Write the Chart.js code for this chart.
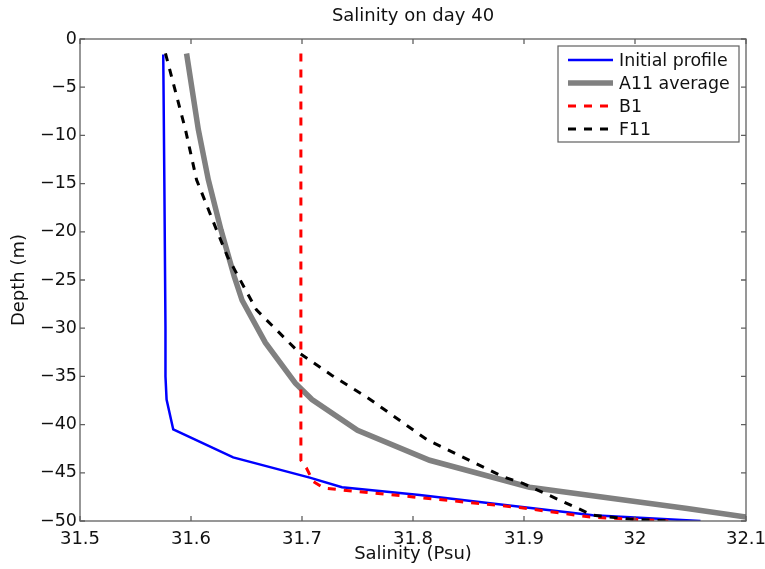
<!DOCTYPE html>
<html><head><meta charset="utf-8">
<script src="https://cdn.jsdelivr.net/npm/chart.js@4.4.0/dist/chart.umd.min.js"></script>
<style>html,body{margin:0;padding:0;background:#fff}#wrap{width:765px;height:569px;position:relative}</style>
</head><body><div id="wrap"><canvas id="c" width="765" height="569"></canvas></div>
<script>
const titleText = 'Salinity on day 40';
const xAxisTitle = 'Salinity (Psu)';
const yAxisTitle = 'Depth (m)';
const seriesLabels = ['Initial profile', 'A11 average', 'B1', 'F11'];

const xTickValues = [31.5, 31.6, 31.7, 31.8, 31.9, 32.0, 32.1];
const xTickLabels = ['31.5', '31.6', '31.7', '31.8', '31.9', '32', '32.1'];
const yTickValues = [0, -5, -10, -15, -20, -25, -30, -35, -40, -45, -50];
const yTickLabels = ['0', '\u22125', '\u221210', '\u221215', '\u221220', '\u221225', '\u221230', '\u221235', '\u221240', '\u221245', '\u221250'];

const initialSalinity = [31.575, 31.576, 31.577, 31.577, 31.578, 31.584, 31.638, 31.707, 31.736, 31.806, 31.962, 32.059];
const initialDepth    = [-1.6, -15, -30, -35, -37.4, -40.5, -43.4, -45.5, -46.5, -47.3, -49.4, -50];

const a11Salinity = [31.596, 31.6066, 31.6156, 31.627, 31.639, 31.646, 31.667, 31.694, 31.709, 31.750, 31.815, 31.905, 32.047, 32.100];
const a11Depth    = [-1.5, -9.4, -14.6, -19.8, -24.65, -27.1, -31.5, -35.7, -37.4, -40.6, -43.7, -46.5, -48.7, -49.6];

const b1Salinity = [31.699, 31.699, 31.704, 31.710, 31.720, 31.800, 31.896, 31.960, 32.030];
const b1Depth    = [-1.5, -43.7, -44.5, -45.9, -46.6, -47.5, -48.6, -49.6, -50];

const f11Salinity = [31.577, 31.595, 31.605, 31.623, 31.633, 31.659, 31.698, 31.727, 31.759, 31.813, 31.881, 31.899, 31.962, 31.995, 32.030];
const f11Depth    = [-1.5, -9.4, -14.6, -19.8, -22.6, -28.1, -32.6, -34.9, -37.2, -41.6, -45.4, -46.1, -49.4, -49.8, -50];

function pts(xs, ys) { return xs.map((x, i) => ({ x: x, y: ys[i] })); }

const FONT = 'DejaVu Sans';
const TXT = '#111';
const AX = '#606060';

const frameTicksPlugin = {
  id: 'frameTicks',
  afterDatasetsDraw(chart) {
    const { ctx, chartArea: a, scales } = chart;
    ctx.save();
    ctx.strokeStyle = AX;
    ctx.lineWidth = 1.3;
    ctx.beginPath();
    const L = 5;
    scales.x.ticks.forEach(t => {
      const px = scales.x.getPixelForValue(t.value);
      ctx.moveTo(px, a.bottom); ctx.lineTo(px, a.bottom - L);
      ctx.moveTo(px, a.top); ctx.lineTo(px, a.top + L);
    });
    scales.y.ticks.forEach(t => {
      const py = scales.y.getPixelForValue(t.value);
      ctx.moveTo(a.left, py); ctx.lineTo(a.left + L, py);
      ctx.moveTo(a.right, py); ctx.lineTo(a.right - L, py);
    });
    ctx.stroke();
    ctx.strokeRect(a.left, a.top, a.right - a.left, a.bottom - a.top);
    ctx.restore();
  }
};

const boxLegendPlugin = {
  id: 'boxLegend',
  afterDraw(chart) {
    const { ctx, chartArea: a } = chart;
    const ds = chart.data.datasets;
    const w = 181, h = 96;
    const x0 = a.right - 7 - w, y0 = a.top + 7;
    ctx.save();
    ctx.fillStyle = '#fff';
    ctx.fillRect(x0, y0, w, h);
    ctx.strokeStyle = AX;
    ctx.lineWidth = 1.2;
    ctx.strokeRect(x0, y0, w, h);
    ctx.font = '17.4px "' + FONT + '"';
    ctx.textBaseline = 'middle';
    ctx.textAlign = 'left';
    ds.forEach((d, i) => {
      const y = y0 + 14 + i * 23;
      ctx.beginPath();
      ctx.strokeStyle = d.borderColor;
      ctx.lineWidth = d.borderWidth;
      ctx.setLineDash(d.borderDash || []);
      ctx.moveTo(x0 + 10, y); ctx.lineTo(x0 + 55, y);
      ctx.stroke();
      ctx.setLineDash([]);
      ctx.fillStyle = TXT;
      ctx.fillText(d.label, x0 + 61, y + 1);
    });
    ctx.restore();
  }
};

new Chart(document.getElementById('c'), {
  type: 'scatter',
  data: {
    datasets: [
      { label: seriesLabels[0], data: pts(initialSalinity, initialDepth), borderColor: '#0000ff', borderWidth: 2.5, order: 4 },
      { label: seriesLabels[1], data: pts(a11Salinity, a11Depth), borderColor: '#808080', borderWidth: 5.5, order: 3 },
      { label: seriesLabels[2], data: pts(b1Salinity, b1Depth), borderColor: '#ff0000', borderWidth: 3, borderDash: [8, 8], order: 2 },
      { label: seriesLabels[3], data: pts(f11Salinity, f11Depth), borderColor: '#000000', borderWidth: 3, borderDash: [8, 8], order: 1 }
    ].map(d => Object.assign({ showLine: true, pointRadius: 0, pointHoverRadius: 0, fill: false, tension: 0, clip: 0 }, d))
  },
  options: {
    responsive: false,
    animation: false,
    events: [],
    layout: { padding: { left: 0, right: 19, top: 0, bottom: 0 } },
    plugins: {
      legend: { display: false },
      tooltip: { enabled: false },
      title: {
        display: true, text: titleText, fullSize: false, color: TXT,
        font: { family: FONT, size: 18, weight: 'normal', lineHeight: 1.2 },
        padding: { top: 6, bottom: 11.4 }
      }
    },
    scales: {
      x: {
        type: 'linear', min: 31.5, max: 32.1,
        afterBuildTicks: s => { s.ticks = xTickValues.map(v => ({ value: v })); },
        afterFit: s => { s.height = 48; s.paddingLeft = 0; s.paddingRight = 0; },
        ticks: { callback: (v, i) => xTickLabels[i], font: { family: FONT, size: 18 }, color: TXT, padding: 8, maxRotation: 0, autoSkip: false },
        grid: { display: false, drawTicks: false },
        border: { display: false },
        title: { display: true, text: xAxisTitle, color: TXT, font: { family: FONT, size: 18, lineHeight: 1.2 }, padding: { top: 0, bottom: 4 } }
      },
      y: {
        type: 'linear', min: -50, max: 0,
        afterBuildTicks: s => { s.ticks = yTickValues.map(v => ({ value: v })); },
        afterFit: s => { s.width = 80; s.paddingTop = 0; s.paddingBottom = 0; },
        ticks: { callback: (v, i) => yTickLabels[i], font: { family: FONT, size: 17.5 }, color: TXT, padding: 3, autoSkip: false },
        grid: { display: false, drawTicks: false },
        border: { display: false },
        title: { display: true, text: yAxisTitle, color: TXT, font: { family: FONT, size: 18, lineHeight: 1.2 }, padding: { top: 9, bottom: 0 } }
      }
    }
  },
  plugins: [frameTicksPlugin, boxLegendPlugin]
});
</script>
</body></html>
